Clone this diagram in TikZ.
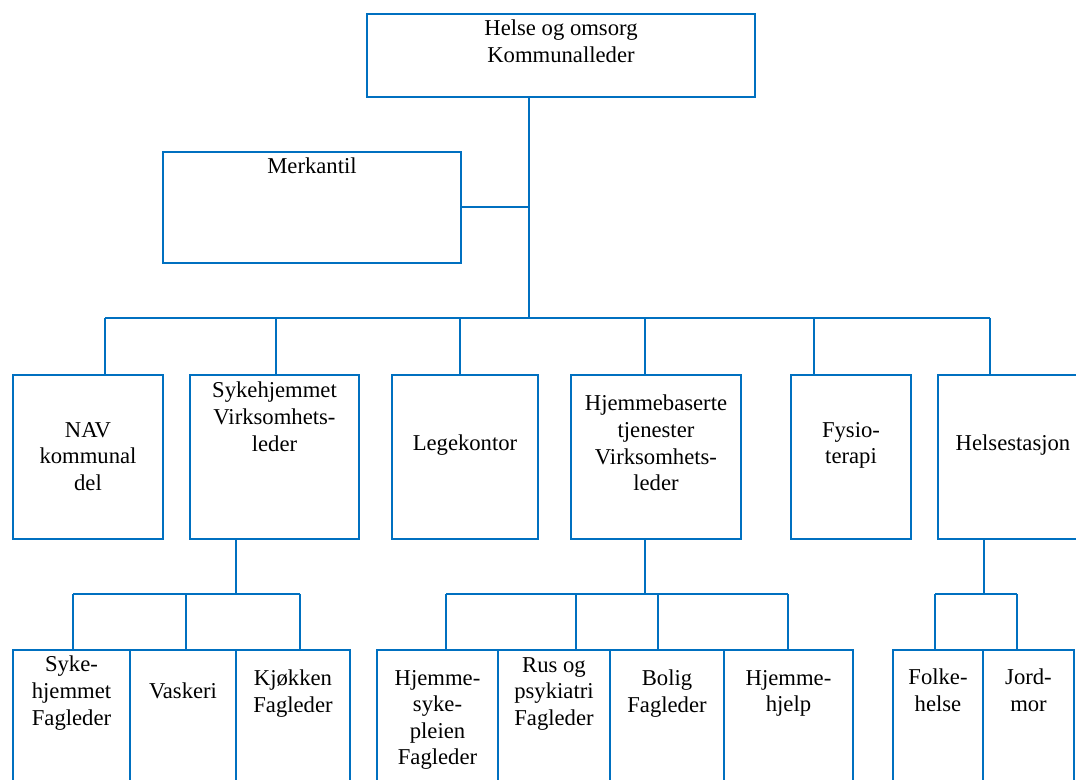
\documentclass[tikz,border=0pt]{standalone}
\usepackage{fontspec}
\setmainfont{Liberation Serif}
\usetikzlibrary{calc}
\definecolor{orgblue}{RGB}{0,112,192}

\begin{document}
\begin{tikzpicture}[x=0.75pt, y=-0.75pt,
  box/.style={draw=orgblue, line width=1.5pt, inner sep=0pt, anchor=north west},
  boxsize/.style 2 args={minimum width=#1*0.75pt, minimum height=#2*0.75pt},
  txt/.style={align=center, inner sep=0pt, anchor=north, font=\fontsize{17}{19.9}\selectfont},
  link/.style={draw=orgblue, line width=1.5pt}]
\clip (0,0) rectangle (1076,780);

\node[box, boxsize={388}{83}] (leder) at (366,13) {};
\node[box, boxsize={298}{111}] (merk) at (162,151) {};

\node[box, boxsize={150}{164}] (nav) at (12,374) {};
\node[box, boxsize={169}{164}] (syke) at (189,374) {};
\node[box, boxsize={146}{164}] (lege) at (391,374) {};
\node[box, boxsize={170}{164}] (hjem) at (570,374) {};
\node[box, boxsize={120}{164}] (fysio) at (790,374) {};
\node[box, boxsize={150}{164}] (hstas) at (937,374) {};

\node[box, boxsize={117}{141}] (sfag) at (12,649) {};
\node[box, boxsize={106}{141}] (vask) at (129,649) {};
\node[box, boxsize={114}{141}] (kjok) at (235,649) {};
\node[box, boxsize={121}{141}] (hsyk) at (376,649) {};
\node[box, boxsize={112}{141}] (rus) at (497,649) {};
\node[box, boxsize={114}{141}] (bolig) at (609,649) {};
\node[box, boxsize={129}{141}] (hhjelp) at (723,649) {};
\node[box, boxsize={90}{141}] (folk) at (892,649) {};
\node[box, boxsize={91}{141}] (jord) at (982,649) {};

\node[txt] (ledertxt) at ($(leder.north)+(0,7)$) {Helse og omsorg\\Kommunalleder};
\node[txt] (merktxt) at ($(merk.north)+(0,7)$) {Merkantil};
\node[txt] (navtxt) at ($(nav.north)+(0,48)$) {NAV\\kommunal\\del};
\node[txt] (syketxt) at ($(syke.north)+(0,8)$) {Sykehjemmet\\Virksomhets-\\leder};
\node[txt] (legetxt) at ($(lege.north)+(0,61)$) {Legekontor};
\node[txt] (hjemtxt) at ($(hjem.north)+(0,21)$) {Hjemmebaserte\\tjenester\\Virksomhets-\\leder};
\node[txt] (fysiotxt) at ($(fysio.north)+(0,48)$) {Fysio-\\terapi};
\node[txt] (hstastxt) at ($(hstas.north)+(0,61)$) {Helsestasjon};
\node[txt] (sfagtxt) at ($(sfag.north)+(0,7)$) {Syke-\\hjemmet\\Fagleder};
\node[txt] (vasktxt) at ($(vask.north)+(0,34)$) {Vaskeri};
\node[txt] (kjoktxt) at ($(kjok.north)+(0,21)$) {Kjøkken\\Fagleder};
\node[txt] (hsyktxt) at ($(hsyk.north)+(0,21)$) {Hjemme-\\syke-\\pleien\\Fagleder};
\node[txt] (rustxt) at ($(rus.north)+(0,8)$) {Rus og\\psykiatri\\Fagleder};
\node[txt] (boligtxt) at ($(bolig.north)+(0,21)$) {Bolig\\Fagleder};
\node[txt] (hhjelptxt) at ($(hhjelp.north)+(0,21)$) {Hjemme-\\hjelp};
\node[txt] (folktxt) at ($(folk.north)+(0,20)$) {Folke-\\helse};
\node[txt] (jordtxt) at ($(jord.north)+(0,20)$) {Jord-\\mor};

% main trunk and bus
\coordinate (trunk) at (529,318);
\draw[link] (trunk |- leder.south) -- (trunk);
\draw[link] (merk.east) -- (merk.east -| trunk);
\draw[link] (105,318) -- (990,318);
\foreach \x/\b in {105/nav,276/syke,460/lege,645/hjem,814/fysio,990/hstas}
  \draw[link] (\x,318) -- (\b.north -| \x,0);

% sub buses
\draw[link] (syke.south -| 236,0) -- (236,594);
\draw[link] (73,594) -- (300,594);
\foreach \x/\b in {73/sfag,186/vask,300/kjok}
  \draw[link] (\x,594) -- (\b.north -| \x,0);

\draw[link] (hjem.south -| 645,0) -- (645,594);
\draw[link] (446,594) -- (788,594);
\foreach \x/\b in {446/hsyk,576/rus,658/bolig,788/hhjelp}
  \draw[link] (\x,594) -- (\b.north -| \x,0);

\draw[link] (hstas.south -| 984,0) -- (984,594);
\draw[link] (935,594) -- (1017,594);
\foreach \x/\b in {935/folk,1017/jord}
  \draw[link] (\x,594) -- (\b.north -| \x,0);
\end{tikzpicture}
\end{document}
